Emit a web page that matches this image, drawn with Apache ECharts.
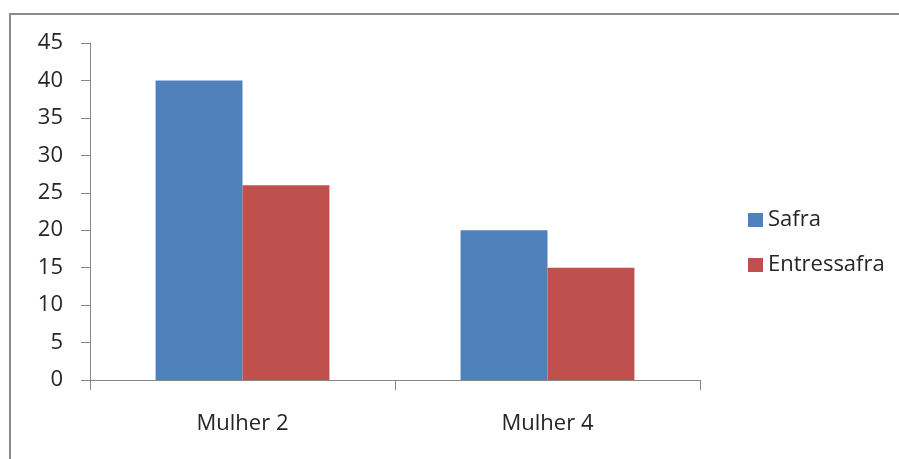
<!DOCTYPE html>
<html>
<head>
<meta charset="utf-8">
<script src="https://cdn.jsdelivr.net/npm/echarts@6/dist/echarts.min.js"></script>
<style>
  html, body { margin: 0; padding: 0; background: #fff; }
  #chart { width: 899px; height: 459px; }
</style>
</head>
<body>
<div id="chart"></div>
<script>
// Chart data
var categories = ['Mulher 2', 'Mulher 4'];
var safra = [40, 20];
var entressafra = [26, 15];
var yTicks = { min: 0, max: 45, interval: 5 };

var font = '"Open Sans", sans-serif';
var axisColor = '#868686';
var textColor = '#262626';

var chart = echarts.init(document.getElementById('chart'));
chart.setOption({
  animation: false,
  backgroundColor: '#ffffff',
  textStyle: { fontFamily: font },
  graphic: [
    {
      type: 'polyline',
      shape: { points: [[10, 459], [10, 14], [899, 14]] },
      style: { stroke: '#8a8a8a', lineWidth: 2, fill: null }
    }
  ],
  grid: { left: 90, right: 199, top: 43, bottom: 79 },
  legend: {
    orient: 'vertical',
    left: 743,
    top: 204,
    itemWidth: 15,
    itemHeight: 14,
    itemGap: 23,
    icon: 'rect',
    textStyle: { fontFamily: font, fontSize: 22, color: textColor },
    data: ['Safra', 'Entressafra']
  },
  xAxis: {
    type: 'category',
    data: categories,
    axisLine: { lineStyle: { color: axisColor, width: 1 } },
    axisTick: { show: true, length: 10, lineStyle: { color: axisColor } },
    axisLabel: { margin: 33, fontSize: 22, color: textColor, fontFamily: font }
  },
  yAxis: {
    type: 'value',
    min: yTicks.min,
    max: yTicks.max,
    interval: yTicks.interval,
    splitLine: { show: false },
    axisLine: { show: true, lineStyle: { color: axisColor, width: 1 } },
    axisTick: { show: true, length: 9, lineStyle: { color: axisColor } },
    axisLabel: { margin: 27, fontSize: 22, color: textColor, fontFamily: font }
  },
  series: [
    {
      name: 'Safra',
      type: 'bar',
      data: safra,
      barGap: '0%',
      barCategoryGap: '43%',
      itemStyle: { color: '#4F81BD' }
    },
    {
      name: 'Entressafra',
      type: 'bar',
      data: entressafra,
      barGap: '0%',
      barCategoryGap: '43%',
      itemStyle: { color: '#C0504D' }
    }
  ]
});
</script>
</body>
</html>
